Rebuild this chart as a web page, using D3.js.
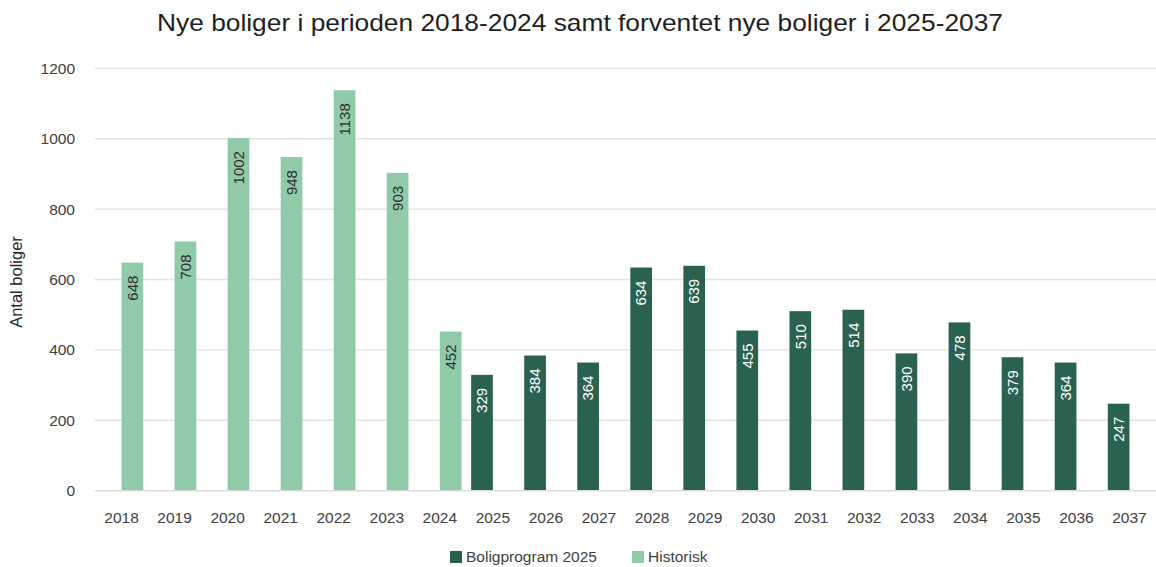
<!DOCTYPE html>
<html><head><meta charset="utf-8">
<script src="https://cdn.jsdelivr.net/npm/d3@7"></script>
<style>
body{margin:0;background:#fff;}
svg{display:block;font-family:"Liberation Sans",Arial,sans-serif;}
</style></head>
<body><svg id="c" width="1156" height="567"></svg>
<script>
const years = ["2018","2019","2020","2021","2022","2023","2024","2025","2026","2027","2028","2029","2030","2031","2032","2033","2034","2035","2036","2037"];
const historisk = [648,708,1002,948,1138,903,452,null,null,null,null,null,null,null,null,null,null,null,null,null];
const boligprogram = [null,null,null,null,null,null,null,329,384,364,634,639,455,510,514,390,478,379,364,247];
const seriesNames = ["Boligprogram 2025","Historisk"];
const yTicks = [0,200,400,600,800,1000,1200];
const title = "Nye boliger i perioden 2018-2024 samt forventet nye boliger i 2025-2037";
const yLabel = "Antal boliger";

const colors = {"Boligprogram 2025":"#2a6150","Historisk":"#90caa8"};
const labelColors = {"Boligprogram 2025":"#ffffff","Historisk":"#2f2f2f"};

const svg = d3.select("#c");
const x = d3.scaleBand().domain(years).range([95,1156]).paddingInner(0).paddingOuter(0);
const inner = d3.scaleBand().domain(seriesNames).range([x.bandwidth()/2-21.7, x.bandwidth()/2+21.7]);
const y = d3.scaleLinear().domain([0,1200]).range([490.6,68.4]);

// gridlines
svg.append("g").selectAll("line").data(yTicks).join("line")
  .attr("x1",95).attr("x2",1156)
  .attr("y1",d=>y(d)).attr("y2",d=>y(d))
  .attr("stroke","#e2e2e2").attr("stroke-width",1.3);

// y tick labels
svg.append("g").selectAll("text").data(yTicks).join("text")
  .attr("x",75).attr("y",d=>y(d)).attr("dy","0.35em")
  .attr("text-anchor","end").attr("font-size",15.5).attr("fill","#404040")
  .text(d=>d);

// x labels
svg.append("g").selectAll("text").data(years).join("text")
  .attr("x",d=>x(d)+x.bandwidth()/2).attr("y",523)
  .attr("text-anchor","middle").attr("font-size",15.5).attr("fill","#404040")
  .text(d=>d);

const series = [
  {name:"Boligprogram 2025", values:boligprogram},
  {name:"Historisk", values:historisk}
];
series.forEach(s=>{
  const data = years.map((yr,i)=>({yr, v:s.values[i]})).filter(d=>d.v!=null);
  const g = svg.append("g");
  g.selectAll("rect").data(data).join("rect")
    .attr("x",d=>x(d.yr)+inner(s.name)).attr("width",inner.bandwidth())
    .attr("y",d=>y(d.v)).attr("height",d=>y(0)-y(d.v))
    .attr("fill",colors[s.name]);
  g.selectAll("text").data(data).join("text")
    .attr("transform",d=>{
      const cx = x(d.yr)+inner(s.name)+inner.bandwidth()/2;
      const ty = y(d.v)+13;
      return `translate(${cx},${ty}) rotate(-90)`;
    })
    .attr("text-anchor","end").attr("dy","0.35em")
    .attr("font-size",15).attr("fill",labelColors[s.name])
    .text(d=>d.v);
});

// baseline
svg.append("line").attr("x1",95).attr("x2",1156).attr("y1",y(0)).attr("y2",y(0))
  .attr("stroke","#d9d9d9").attr("stroke-width",1.3);

// title
svg.append("text").attr("x",580).attr("y",31).attr("text-anchor","middle")
  .attr("font-family","'Liberation Sans Narrow','Liberation Sans',sans-serif")
  .attr("font-size",24).attr("fill","#1f1f1f")
  .attr("textLength",846).attr("lengthAdjust","spacingAndGlyphs")
  .text(title);

// y label
svg.append("text").attr("transform","translate(22,282) rotate(-90)")
  .attr("text-anchor","middle").attr("font-size",16.5).attr("fill","#262626")
  .text(yLabel);

// legend
const leg = [
  {name:"Boligprogram 2025", x:450},
  {name:"Historisk", x:632}
];
const lg = svg.append("g");
lg.selectAll("rect").data(leg).join("rect")
  .attr("x",d=>d.x).attr("y",551).attr("width",12).attr("height",12)
  .attr("fill",d=>colors[d.name]);
lg.selectAll("text").data(leg).join("text")
  .attr("x",d=>d.x+16).attr("y",557).attr("dy","0.35em")
  .attr("font-size",15.5).attr("fill","#404040")
  .text(d=>d.name);
</script></body></html>
